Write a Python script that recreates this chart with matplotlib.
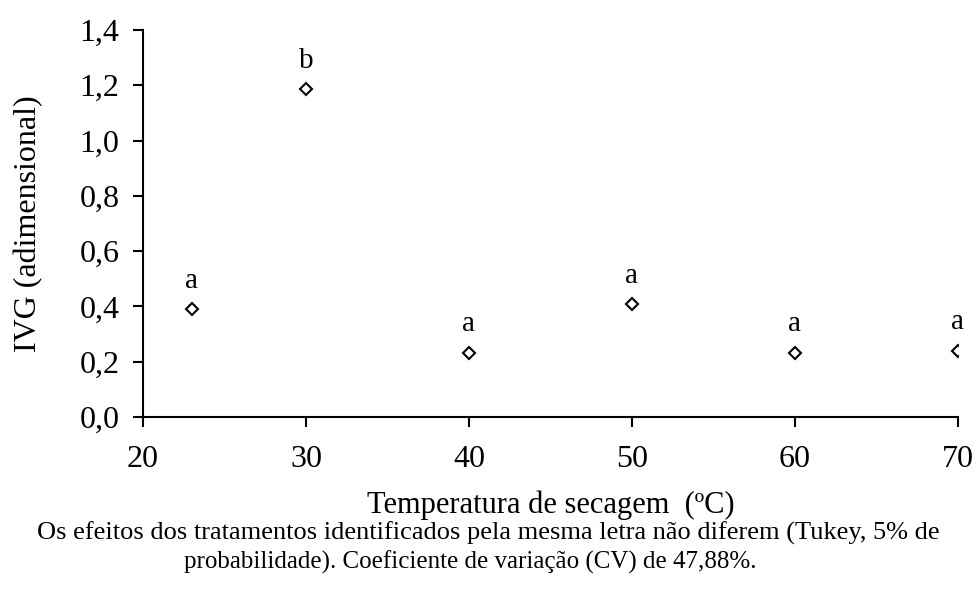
import matplotlib.pyplot as plt

temps = [23, 30, 40, 50, 60, 70]
ivg = [0.39, 1.185, 0.233, 0.407, 0.233, 0.24]
letras = ["a", "b", "a", "a", "a", "a"]

plt.rcParams["font.family"] = ["Liberation Serif", "DejaVu Serif"]

fig = plt.figure(figsize=(9.78, 5.92), dpi=100)
ax = fig.add_axes([143 / 978, 175 / 592, 815 / 978, 387 / 592])

ax.plot(temps, ivg, linestyle="none", marker="D", markersize=6.5,
        markerfacecolor="white", markeredgecolor="black", markeredgewidth=1.5)
for x, y, l in zip(temps, ivg, letras):
    ax.annotate(l, (x, y), xytext=(0, 11), textcoords="offset points",
                ha="center", va="bottom", fontsize=21)

ax.set_xlim(20, 70)
ax.set_ylim(0, 1.4)
ax.set_xticks([20, 30, 40, 50, 60, 70])
ax.set_yticks([0, 0.2, 0.4, 0.6, 0.8, 1.0, 1.2, 1.4])
ax.set_yticklabels([f"{v:.1f}".replace(".", ",") for v in ax.get_yticks()])
ax.tick_params(axis="both", direction="out", length=7, width=1.5, labelsize=23)
ax.tick_params(axis="x", pad=13)
ax.tick_params(axis="y", pad=10)
ax.spines["top"].set_visible(False)
ax.spines["right"].set_visible(False)
ax.spines["left"].set_linewidth(1.5)
ax.spines["bottom"].set_linewidth(1.5)
for sp in ax.spines.values():
    sp.set_clip_on(False)

ax.set_xlabel("Temperatura de secagem  (ºC)", fontsize=22, labelpad=12)
ax.set_ylabel("IVG (adimensional)", fontsize=23, labelpad=26)

fig.text(488 / 978, 1 - 533 / 592,
         "Os efeitos dos tratamentos identificados pela mesma letra não diferem (Tukey, 5% de",
         ha="center", va="center", fontsize=19)
fig.text(470 / 978, 1 - 562 / 592,
         "probabilidade). Coeficiente de variação (CV) de 47,88%.",
         ha="center", va="center", fontsize=18)

fig.savefig("out.png", dpi=100)
